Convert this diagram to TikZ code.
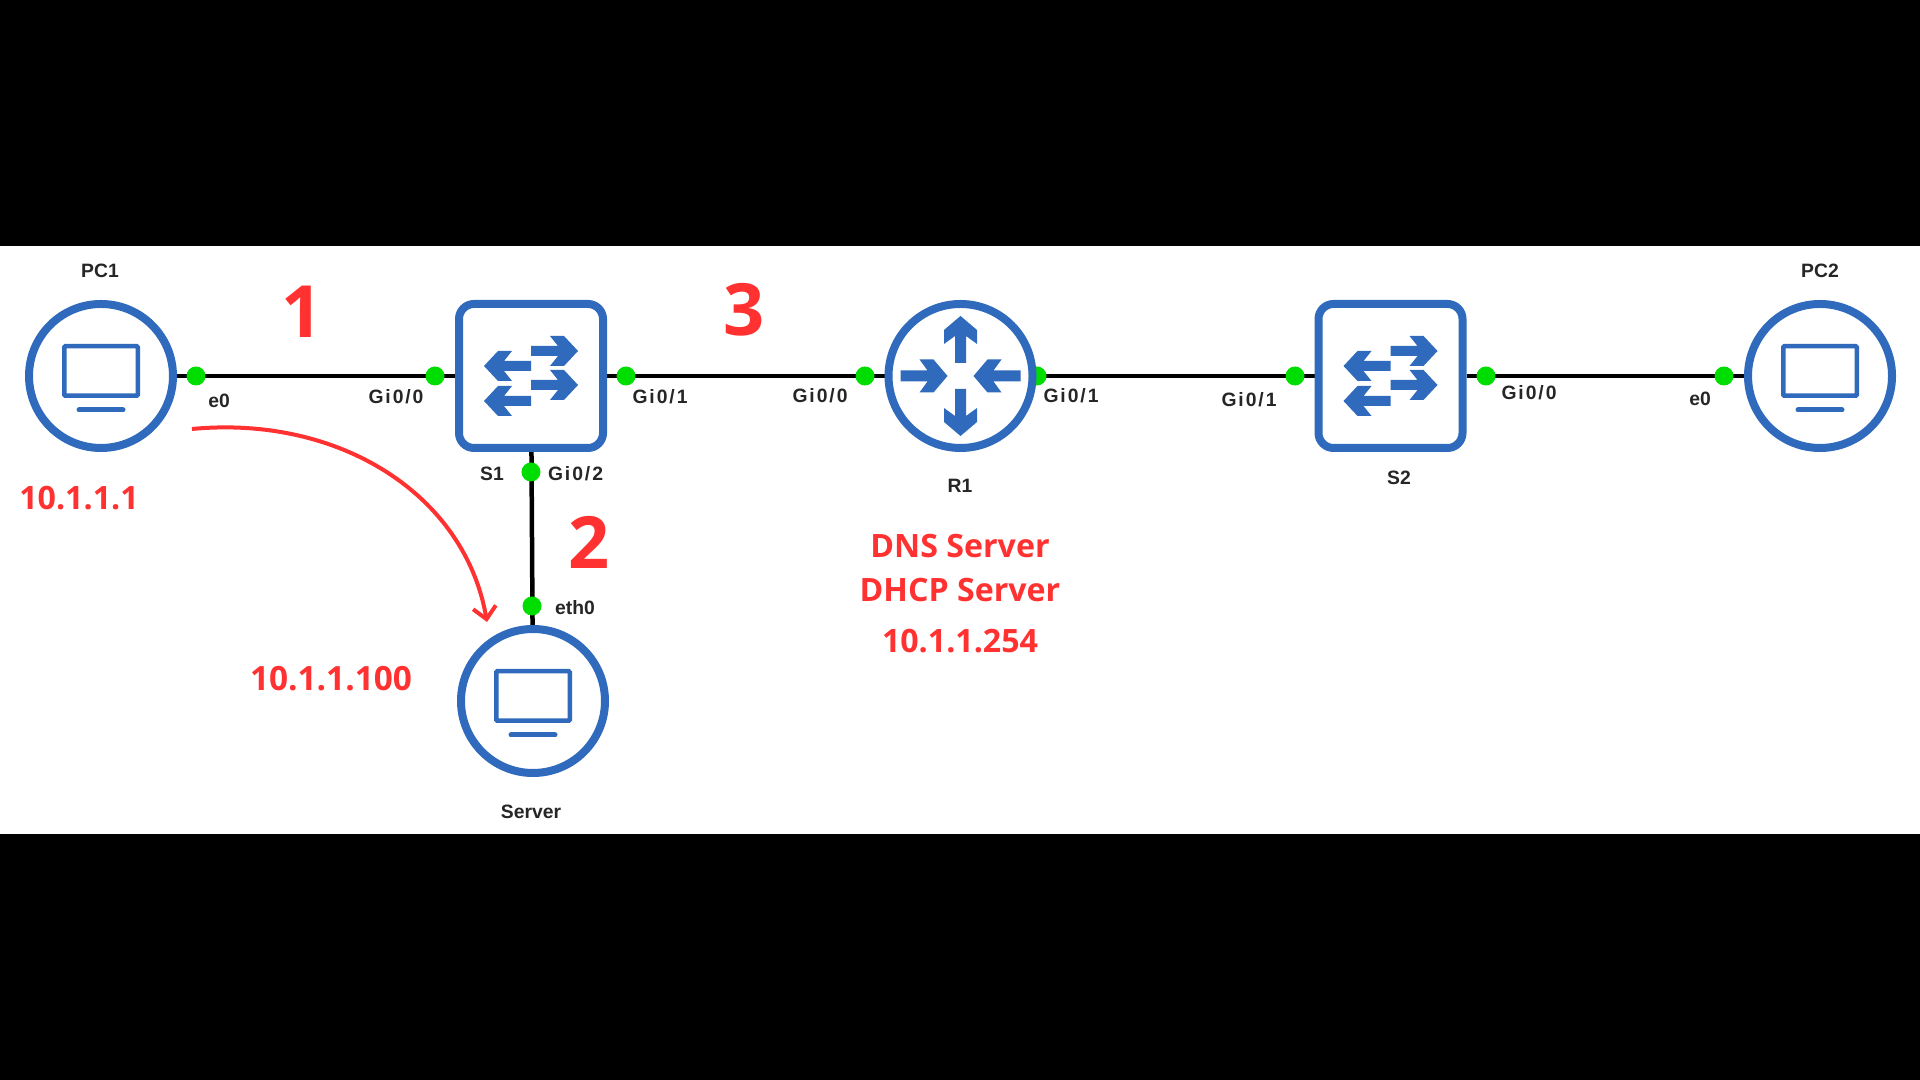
\documentclass[tikz,border=0pt]{standalone}
\usepackage{fontspec}
\setmainfont{Liberation Sans}
\newfontfamily\redfont{Open Sans}
\usetikzlibrary{arrows.meta,backgrounds}
\definecolor{devblue}{HTML}{2F6ABC}
\definecolor{portgreen}{HTML}{00DD00}
\definecolor{notered}{HTML}{FF3131}
\newcommand{\gig}[1]{{\addfontfeature{LetterSpace=10}Gi0/#1}}
\tikzset{
    hostnode/.style={draw=devblue, line width=0.16cm, fill=white, circle, minimum size=2.88cm, inner sep=0, outer sep=0.08cm},
    switchnode/.style={draw=devblue, line width=0.16cm, fill=white, rounded corners=0.3cm, minimum size=2.88cm, inner sep=0, outer sep=0.08cm},
    link/.style={draw=black, line width=0.09cm},
    port/.style={fill=portgreen, circle, minimum size=0.38cm, inner sep=0},
    lbl/.style={text=black!85, font=\bfseries\fontsize{11}{13}\selectfont, inner sep=0},
    bignum/.style={text=notered, font=\redfont\bfseries\fontsize{41}{46}\selectfont, inner sep=0},
    note/.style={text=notered, font=\redfont\bfseries\fontsize{18.3}{22}\selectfont, inner sep=0},
    pics/flowarrow/.style={code={
        \fill[devblue] (0,0.1) -- (0.54,0.1) -- (0.38,0.3) -- (0.66,0.3) -- (0.94,0) -- (0.66,-0.3) -- (0.38,-0.3) -- (0.54,-0.1) -- (0,-0.1) -- cycle;
    }}
}
\begin{document}
\begin{tikzpicture}
    \useasboundingbox (0,0) rectangle (38.4,21.6);
    \begin{scope}[on background layer]
        \fill[black] (0,0) rectangle (38.4,21.6);
        \fill[white] (0,4.92) rectangle (38.4,16.68);
    \end{scope}

    % devices
    \node[hostnode] (pc1) at (2.02, 14.08) {};
    \node[switchnode] (s1) at (10.62, 14.08) {};
    \node[hostnode] (r1) at (19.21, 14.08) {};
    \node[switchnode] (s2) at (27.81, 14.08) {};
    \node[hostnode] (pc2) at (36.40, 14.08) {};
    \node[hostnode] (server) at (10.66, 7.58) {};

    % icons
    \foreach \n in {pc1,pc2,server} {
        \draw[devblue, line width=0.09cm, rounded corners=0.02cm] ([xshift=-0.735cm, yshift=-0.395cm]\n.center) rectangle ([xshift=0.735cm, yshift=0.595cm]\n.center);
        \draw[devblue, line width=0.1cm, line cap=round] ([xshift=-0.44cm, yshift=-0.68cm]\n.center) -- ([xshift=0.44cm, yshift=-0.68cm]\n.center);
    }
    \foreach \n in {s1,s2} {
        \pic at ([yshift=0.5cm]\n.center) {flowarrow};
        \pic at ([yshift=-0.18cm]\n.center) {flowarrow};
        \pic[rotate=180] at ([yshift=0.2cm]\n.center) {flowarrow};
        \pic[rotate=180] at ([yshift=-0.5cm]\n.center) {flowarrow};
    }
    \pic[rotate=90, yscale=1.1] at ([yshift=0.26cm]r1.center) {flowarrow};
    \pic[rotate=-90, yscale=1.1] at ([yshift=-0.26cm]r1.center) {flowarrow};
    \pic[yscale=1.1] at ([xshift=-1.2cm]r1.center) {flowarrow};
    \pic[rotate=180, yscale=1.1] at ([xshift=1.2cm]r1.center) {flowarrow};

    % links and ports stay under the devices
    \begin{scope}[on background layer]
        \draw[link] (pc1) -- (s1);
        \draw[link] (s1) -- (r1);
        \draw[link] (r1) -- (s2);
        \draw[link] (s2) -- (pc2);
        \draw[link] (s1) -- (server);
        \node[port] (p1) at (3.92, 14.08) {};
        \node[port] (p2) at (8.70, 14.08) {};
        \node[port] (p3) at (12.52, 14.08) {};
        \node[port] (p4) at (10.62, 12.16) {};
        \node[port] (p5) at (10.64, 9.48) {};
        \node[port] (p6) at (17.30, 14.08) {};
        \node[port] (p7) at (20.74, 14.08) {};
        \node[port] (p8) at (25.90, 14.08) {};
        \node[port] (p9) at (29.72, 14.08) {};
        \node[port] (p10) at (34.48, 14.08) {};
    \end{scope}

    % labels
    \node[lbl] (pc1name) at (2.00, 16.18) {PC1};
    \node[lbl] (pc2name) at (36.40, 16.18) {PC2};
    \node[lbl] (s1name) at (9.84, 12.12) {S1};
    \node[lbl] (s2name) at (27.98, 12.05) {S2};
    \node[lbl] (r1name) at (19.20, 11.88) {R1};
    \node[lbl] (servername) at (10.62, 5.36) {Server};
    \node[lbl] (l1) at (4.38, 13.59) {e0};
    \node[lbl] (l2) at (7.92, 13.66) {\gig{0}};
    \node[lbl] (l3) at (13.20, 13.66) {\gig{1}};
    \node[lbl] (l4) at (11.51, 12.12) {\gig{2}};
    \node[lbl] (l5) at (11.50, 9.44) {eth0};
    \node[lbl] (l6) at (16.40, 13.69) {\gig{0}};
    \node[lbl] (l7) at (21.42, 13.69) {\gig{1}};
    \node[lbl] (l8) at (24.98, 13.60) {\gig{1}};
    \node[lbl] (l9) at (30.58, 13.74) {\gig{0}};
    \node[lbl] (l10) at (34.00, 13.62) {e0};

    % notes
    \node[bignum] (n1) at (6.05, 15.37) {1};
    \node[bignum] (n2) at (11.78, 10.76) {2};
    \node[bignum] (n3) at (14.89, 15.40) {3};
    \node[note] (ippc) at (1.58, 11.63) {10.1.1.1};
    \node[note, font=\redfont\bfseries\fontsize{19}{22}\selectfont] (ipserver) at (6.62, 8.02) {10.1.1.100};
    \node[note] (dns) at (19.20, 10.67) {DNS Server};
    \node[note] (dhcp) at (19.20, 9.79) {DHCP Server};
    \node[note] (iprouter) at (19.20, 8.78) {10.1.1.254};

    \coordinate (flowstart) at (3.84, 13.02);
    \coordinate (flowend) at (9.74, 9.16);
    \draw[notered, line width=0.08cm, -{Straight Barb[length=0.24cm, width=0.46cm]}] (flowstart) .. controls (6.8, 13.3) and (9.3, 11.7) .. (flowend);
\end{tikzpicture}
\end{document}
